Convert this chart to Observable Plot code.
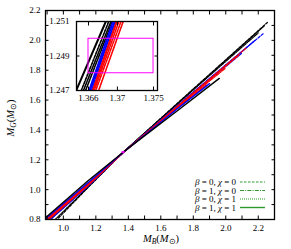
<!DOCTYPE html>
<html><head><meta charset="utf-8">
<script src="https://cdn.jsdelivr.net/npm/d3@7"></script>
<script src="https://cdn.jsdelivr.net/npm/@observablehq/plot@0.6"></script>
<style>
body{margin:0;background:#fff;}
#wrap{position:relative;width:291px;height:249px;font-family:"Liberation Serif",serif;}
#wrap svg{position:absolute;overflow:visible;}
</style></head><body><div id="wrap"></div>
<script>
// M_B values and M_G values for each EOS colour and (beta, chi) style
const bkB0C0_MB = [0.97, 1.15, 1.3650, 1.3688, 1.80, 2.256];
const bkB0C0_MG = [0.81, 1.012, 1.247, 1.251, 1.675, 2.12];
const bkB1C0_MB = [0.92, 1.15, 1.3656, 1.3693, 1.80, 2.20];
const bkB1C0_MG = [0.80, 1.025, 1.247, 1.251, 1.668, 2.05];
const bkB0C1_MB = [0.95, 1.15, 1.3653, 1.3691, 1.80, 2.24];
const bkB0C1_MG = [0.80, 1.015, 1.247, 1.251, 1.672, 2.10];
const bkB1C1_MB = [0.89, 1.15, 1.3643, 1.3684, 1.70, 1.96];
const bkB1C1_MG = [0.812, 1.058, 1.247, 1.251, 1.527, 1.745];

const blB0C0_MB = [0.92, 1.15, 1.3664, 1.3696, 1.80, 2.232];
const blB0C0_MG = [0.80, 1.02, 1.247, 1.251, 1.655, 2.046];
const blB1C0_MB = [0.90, 1.15, 1.3662, 1.3697, 1.80, 2.10];
const blB1C0_MG = [0.80, 1.03, 1.247, 1.251, 1.645, 1.915];
const blB0C1_MB = [0.91, 1.15, 1.3666, 1.3699, 1.80, 2.18];
const blB0C1_MG = [0.80, 1.025, 1.247, 1.251, 1.650, 2.00];
const blB1C1_MB = [0.89, 1.15, 1.3661, 1.3694, 1.70, 1.90];
const blB1C1_MG = [0.805, 1.045, 1.247, 1.251, 1.540, 1.71];

const rdB0C0_MB = [0.90, 1.15, 1.3670, 1.3705, 1.80, 2.127];
const rdB0C0_MG = [0.80, 1.03, 1.247, 1.251, 1.650, 1.95];
const rdB1C0_MB = [0.90, 1.15, 1.3668, 1.3702, 1.80, 2.00];
const rdB1C0_MG = [0.80, 1.035, 1.247, 1.251, 1.640, 1.815];
const rdB0C1_MB = [0.91, 1.15, 1.3674, 1.3708, 1.80, 2.08];
const rdB0C1_MG = [0.80, 1.025, 1.247, 1.251, 1.645, 1.90];
const rdB1C1_MB = [0.89, 1.15, 1.3666, 1.3699, 1.70, 1.88];
const rdB1C1_MG = [0.80, 1.04, 1.247, 1.251, 1.545, 1.70];

// observed double-pulsar box (M_B range, M_G range)
const boxMB = [1.366, 1.375];
const boxMG = [1.248, 1.250];

const legendLabels = [["0","0"],["1","0"],["0","1"],["1","1"]];
const legendStyles = ["b0c0","b1c0","b0c1","b1c1"];

const xTickLabels = [1, 1.2, 1.4, 1.6, 1.8, 2, 2.2];
const yTickLabels = [0.8, 1, 1.2, 1.4, 1.6, 1.8, 2, 2.2];
const xMinorTicks = [0.9,1.0,1.1,1.2,1.3,1.4,1.5,1.6,1.7,1.8,1.9,2.0,2.1,2.2,2.3];
const yMinorTicks = [0.8,0.9,1.0,1.1,1.2,1.3,1.4,1.5,1.6,1.7,1.8,1.9,2.0,2.1,2.2];
const insetXTicks = [1.366, 1.37, 1.375];
const insetYTicks = [1.247, 1.249, 1.251];

const curves = [
  {color:"black", style:"b0c0", mb:bkB0C0_MB, mg:bkB0C0_MG},
  {color:"black", style:"b1c0", mb:bkB1C0_MB, mg:bkB1C0_MG},
  {color:"black", style:"b0c1", mb:bkB0C1_MB, mg:bkB0C1_MG},
  {color:"blue", style:"b0c0", mb:blB0C0_MB, mg:blB0C0_MG},
  {color:"blue", style:"b1c0", mb:blB1C0_MB, mg:blB1C0_MG},
  {color:"blue", style:"b0c1", mb:blB0C1_MB, mg:blB0C1_MG},
  {color:"red", style:"b0c0", mb:rdB0C0_MB, mg:rdB0C0_MG},
  {color:"red", style:"b1c0", mb:rdB1C0_MB, mg:rdB1C0_MG},
  {color:"red", style:"b0c1", mb:rdB0C1_MB, mg:rdB0C1_MG},
  {color:"red", style:"b1c1", mb:rdB1C1_MB, mg:rdB1C1_MG},
  {color:"blue", style:"b1c1", mb:blB1C1_MB, mg:blB1C1_MG},
  {color:"black", style:"b1c1", mb:bkB1C1_MB, mg:bkB1C1_MG}
];
const dash = {b0c0:"2.5,1.5", b1c0:"4,1.2,1,1.2", b0c1:"1,1", b1c1:null};
const widthMain = {b0c0:1.2, b1c0:1.2, b0c1:1.2, b1c1:1.4};
const widthInset = {b0c0:1.6, b1c0:1.6, b0c1:1.6, b1c1:2};

function lineMarks(widths) {
  return curves.map(c => {
    const pts = c.mb.map((m, i) => ({mb: m, mg: c.mg[i]}));
    return Plot.line(pts, {x:"mb", y:"mg", stroke:c.color, strokeWidth:widths[c.style],
      strokeDasharray:dash[c.style], clip:true});
  });
}
const boxData = [{x1:boxMB[0], x2:boxMB[1], y1:boxMG[0], y2:boxMG[1]}];
const font = {fontFamily:"Liberation Serif", fontSize:9};

const main = Plot.plot({
  width:291, height:249, marginLeft:45, marginRight:17, marginTop:10, marginBottom:30,
  style:{background:"transparent", fontFamily:"Liberation Serif", fontSize:"9px", color:"black"},
  x:{domain:[0.89, 2.3], label:null},
  y:{domain:[0.8, 2.2], label:null},
  marks:[
    ...lineMarks(widthMain),
    Plot.rect(boxData, {x1:"x1", x2:"x2", y1:"y1", y2:"y2", stroke:"#ff00ff", strokeWidth:1.5, fill:"none"}),
    Plot.axisX(xTickLabels, {anchor:"bottom", tickSize:0, tickPadding:5, label:null, ...font}),
    Plot.axisY(yTickLabels, {anchor:"left", tickSize:0, tickPadding:5, label:null, ...font}),
    Plot.axisX(xMinorTicks, {anchor:"bottom", tickSize:-3.5, tickFormat:()=>"", label:null}),
    Plot.axisX(xMinorTicks, {anchor:"top", tickSize:-3.5, tickFormat:()=>"", label:null}),
    Plot.axisY(yMinorTicks, {anchor:"left", tickSize:-3.5, tickFormat:()=>"", label:null}),
    Plot.axisY(yMinorTicks, {anchor:"right", tickSize:-3.5, tickFormat:()=>"", label:null}),
    Plot.frame({stroke:"black", strokeWidth:1.3})
  ]
});
main.style.left = "0px"; main.style.top = "0px";

const inset = Plot.plot({
  width:124, height:88, marginLeft:33, marginRight:10, marginTop:5, marginBottom:14,
  style:{background:"transparent", fontFamily:"Liberation Serif", fontSize:"9px", color:"black"},
  x:{domain:[1.36434, 1.37555], label:null},
  y:{domain:[1.247, 1.251], label:null},
  marks:[
    Plot.frame({fill:"white", stroke:null}),
    ...lineMarks(widthInset),
    Plot.rect(boxData, {x1:"x1", x2:"x2", y1:"y1", y2:"y2", stroke:"#ff00ff", strokeWidth:1, fill:"none"}),
    Plot.axisX(insetXTicks, {anchor:"bottom", tickSize:0, tickPadding:4, label:null, tickFormat:d=>String(d), ...font}),
    Plot.axisY(insetYTicks, {anchor:"left", tickSize:0, tickPadding:7, label:null, tickFormat:d=>d.toFixed(3), ...font}),
    Plot.axisX(insetXTicks, {anchor:"bottom", tickSize:-3.5, tickFormat:()=>"", label:null}),
    Plot.axisX(insetXTicks, {anchor:"top", tickSize:-3.5, tickFormat:()=>"", label:null}),
    Plot.axisY(insetYTicks, {anchor:"left", tickSize:-3.5, tickFormat:()=>"", label:null}),
    Plot.axisY(insetYTicks, {anchor:"right", tickSize:-3.5, tickFormat:()=>"", label:null}),
    Plot.frame({stroke:"black", strokeWidth:1.3})
  ]
});
inset.style.left = "43px"; inset.style.top = "16px";

const wrap = document.getElementById("wrap");
wrap.appendChild(main);
wrap.appendChild(inset);

// axis titles
const s = d3.select(main);
function massLabel(sel, sub) {
  sel.attr("font-family","Liberation Serif").attr("font-size",10.5).attr("fill","black");
  sel.append("tspan").attr("font-style","italic").text("M");
  sel.append("tspan").attr("font-style","italic").attr("font-size",7.5).attr("dy",2).text(sub);
  sel.append("tspan").attr("dy",-2).text("(");
  sel.append("tspan").attr("font-style","italic").text("M");
  sel.append("tspan").attr("font-size",7.5).attr("dy",2).text("\u2299");
  sel.append("tspan").attr("dy",-2).text(")");
}
massLabel(s.append("text").attr("text-anchor","middle").attr("transform","translate(14,118) rotate(-90)"), "G");
massLabel(s.append("text").attr("text-anchor","middle").attr("x",161).attr("y",242), "B");

// legend
const leg = s.append("g");
const baselines = [185, 193.5, 202, 210.5];
legendLabels.forEach((lab, i) => {
  const t = leg.append("text").attr("x",236).attr("y",baselines[i]).attr("text-anchor","end")
    .attr("font-family","Liberation Serif").attr("font-size",9).attr("fill","black");
  t.append("tspan").attr("font-style","italic").text("\u03b2");
  t.append("tspan").text(" = " + lab[0] + ", ");
  t.append("tspan").attr("font-style","italic").text("\u03c7");
  t.append("tspan").text(" = " + lab[1]);
  const st = legendStyles[i];
  leg.append("line").attr("x1",240).attr("x2",265).attr("y1",baselines[i]-3).attr("y2",baselines[i]-3)
    .attr("stroke","#2e9a2e").attr("stroke-width", st==="b1c1"?1.4:1.2)
    .attr("stroke-dasharray", dash[st]);
});
</script></body></html>
